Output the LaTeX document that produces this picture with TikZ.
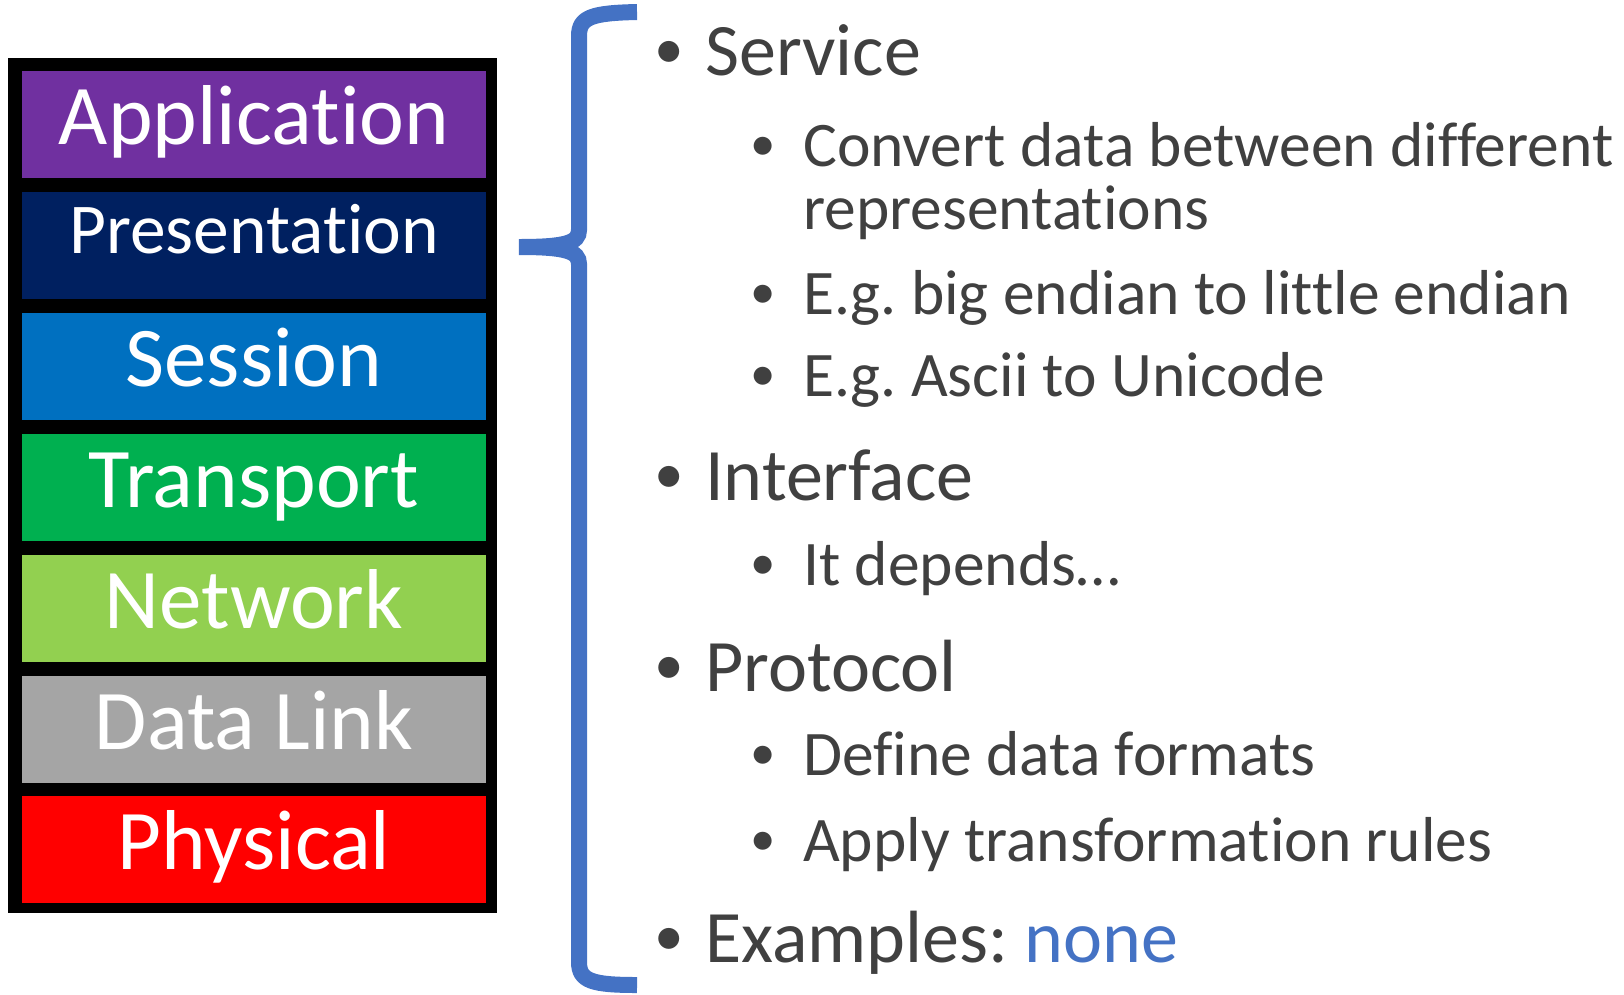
\documentclass[tikz,border=0pt]{standalone}
\usepackage{fontspec}
\setmainfont{Carlito}[Ligatures={NoCommon}, RawFeature={-liga;-clig;-dlig}]
\usetikzlibrary{positioning}
\frenchspacing

\definecolor{appcol}{HTML}{7030A0}
\definecolor{prescol}{HTML}{002060}
\definecolor{sesscol}{HTML}{0070C0}
\definecolor{transcol}{HTML}{00B050}
\definecolor{netcol}{HTML}{92D050}
\definecolor{linkcol}{HTML}{A5A5A5}
\definecolor{physcol}{HTML}{FF0000}
\definecolor{bracecol}{HTML}{4472C4}
\definecolor{txtcol}{HTML}{404040}

\newcommand{\bul}{\raisebox{0.09em}{\scalebox{0.8}{•}}}
\newcommand{\mainbul}{\llap{\makebox[0pt]{\bul}\hspace{36pt}}}
\newcommand{\subbul}{\llap{\makebox[0pt]{\bul}\hspace{40pt}}}

\begin{document}
\begin{tikzpicture}[x=1pt, y=-1pt,
    layer/.style={minimum width=464pt, minimum height=107pt, inner sep=0pt,
      text=white, font=\fontsize{85}{85}\selectfont, text height=60pt, text depth=20pt},
    item/.style={anchor=base west, inner sep=0pt, text=txtcol, font=\fontsize{74}{74}\selectfont},
    subitem/.style={item, font=\fontsize{63.5}{63.5}\selectfont}]
    \useasboundingbox (0,0) rectangle (1624,994);
    % the layer stack
    \node[fill=black, minimum width=489pt, minimum height=855pt, inner sep=0pt] (stack) at (252.5,485.5) {};
    \node[layer, fill=appcol] (app) at (254,124.5) {Application};
    \foreach \i/\j/\col/\txt in {app/pres/prescol/{\raisebox{12pt}{\fontsize{71.5}{71.5}\selectfont Presentation}},
        pres/sess/sesscol/Session, sess/trans/transcol/Transport, trans/net/netcol/Network,
        net/link/linkcol/Data Link, link/phys/physcol/Physical} {
      \node[layer, fill=\col, below=13.5pt of \i] (\j) {\txt};
    }
    % brace
    \draw[bracecol, line width=16pt] (637,12) .. controls (592,13) and (579,17) .. (579,36)
      -- (579,230) .. controls (579,243) and (565,247) .. (519,247)
      .. controls (565,247) and (579,251) .. (579,264)
      -- (579,962) .. controls (579,981) and (592,985) .. (637,985);
    % bullet points
    \foreach \nm/\yy/\txt in {serv/75/Service, intf/500/Interface, prot/691/Protocol,
        exam/962/{Examples: \textcolor{bracecol}{none}}} {
      \node[item] (\nm) at (705,\yy) {\mainbul\txt};
    }
    \foreach \nm/\yy/\txt in {conv/166/Convert data between different,
        endi/314/E.g. big endian to little endian, ascii/396/E.g. Ascii to Unicode,
        dep/585/It depends…, defn/775/Define data formats, rules/861/Apply transformation rules} {
      \node[subitem] (\nm) at (803,\yy) {\subbul\txt};
    }
    \node[subitem] (repr) at (803,229) {representations};
\end{tikzpicture}
\end{document}
